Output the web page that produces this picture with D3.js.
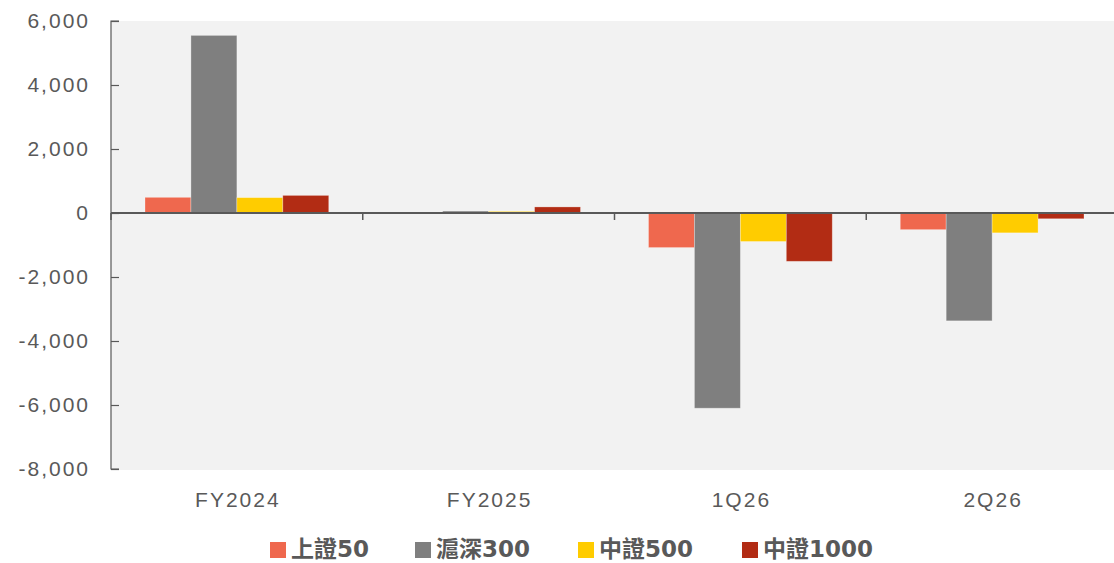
<!DOCTYPE html>
<html><head><meta charset="utf-8">
<script src="https://cdn.jsdelivr.net/npm/d3@7"></script>
<style>
body{margin:0;background:#fff;}
svg{display:block;font-family:"Liberation Sans","Noto Sans CJK TC",sans-serif;}
</style></head>
<body><svg id="c" width="1114" height="563"></svg>
<script>
const categories = ["FY2024","FY2025","1Q26","2Q26"];
const seriesNames = ["上證50","滬深300","中證500","中證1000"];
const s50   = [490, 0, -1080, -520];
const s300  = [5550, 60, -6100, -3370];
const s500  = [480, 50, -890, -620];
const s1000 = [550, 190, -1510, -180];
const seriesValues = [s50, s300, s500, s1000];
const yTicks = [6000,4000,2000,0,-2000,-4000,-6000,-8000];
const colors = ["#EF684E","#7F7F7F","#FFCC00","#B22C14"];

(function(){
const svg = d3.select("#c");
const pL = 111, pR = 1118, pT = 21, pB = 469;
const ls = 2;
const x = d3.scaleBand().domain(categories).range([pL, pR]).padding(0);
const xs = d3.scaleBand().domain(seriesNames).range([34, x.bandwidth()-34]).padding(0);
const y = d3.scaleLinear().domain([-8000, 6000]).range([pB, pT]);

svg.append("rect").attr("x", pL).attr("y", pT).attr("width", 1114-pL).attr("height", pB-pT+1).attr("fill","#F2F2F2");

seriesNames.forEach((s, si) => {
  svg.append("g").selectAll("rect").data(categories).join("rect")
    .attr("x", c => x(c) + xs(s))
    .attr("width", xs.bandwidth())
    .attr("y", (c, i) => y(Math.max(0, seriesValues[si][i])))
    .attr("height", (c, i) => Math.abs(y(seriesValues[si][i]) - y(0)))
    .attr("fill", colors[si])
    .attr("stroke", "rgba(255,255,255,0.35)").attr("stroke-width", 0.8);
});

const yAxis = d3.axisRight(y).tickValues(yTicks).tickSize(8).tickFormat("");
const gy = svg.append("g").attr("transform", `translate(${pL},0)`).call(yAxis);
gy.select(".domain").attr("stroke","#595959").attr("stroke-width",1.2).attr("d", `M8,${pT}H0V${pB}H8`);
gy.selectAll(".tick line").attr("stroke","#595959").attr("stroke-width",1.2);
svg.append("g").selectAll("text").data(yTicks).join("text")
  .attr("x", 88 + ls).attr("y", d => y(d)).attr("dy","0.35em")
  .attr("text-anchor","end").attr("font-size",21).attr("letter-spacing",ls).attr("fill","#595959")
  .text(d => d3.format(",")(d).replace("−","-"));

const zeroY = y(0);
svg.append("line").attr("x1", pL).attr("x2", 1114).attr("y1", zeroY).attr("y2", zeroY)
  .attr("stroke","#595959").attr("stroke-width",2);
const bounds = categories.map(c => x(c)).concat([pR]);
svg.append("g").selectAll("line").data(bounds).join("line")
  .attr("x1", d => d).attr("x2", d => d).attr("y1", zeroY).attr("y2", zeroY+7)
  .attr("stroke","#595959").attr("stroke-width",1.5);
svg.append("g").selectAll("text").data(categories).join("text")
  .attr("x", c => x(c) + x.bandwidth()/2 + ls/2).attr("y", 500).attr("dy","0.35em")
  .attr("text-anchor","middle").attr("font-size",21).attr("letter-spacing",ls).attr("fill","#595959").text(c => c);

const legX = [270, 415, 578, 742];
const leg = svg.append("g").selectAll("g").data(seriesNames).join("g")
  .attr("transform", (d,i) => `translate(${legX[i]},549)`);
leg.append("rect").attr("x",0).attr("y",-7).attr("width",16).attr("height",16).attr("fill",(d,i)=>colors[i]);
leg.append("text").attr("x",21).attr("y",0).attr("dy","0.33em").attr("font-size",23).attr("font-weight","bold")
  .style("font-family","'DejaVu Sans','Noto Sans CJK TC',sans-serif")
  .attr("fill","#595959").text(d => d);
})();
</script></body></html>
